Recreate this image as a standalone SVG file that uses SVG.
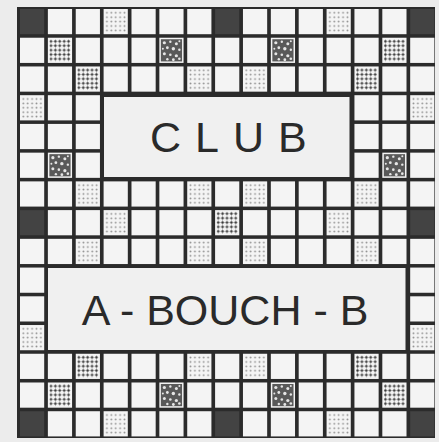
<svg xmlns="http://www.w3.org/2000/svg" xmlns:xlink="http://www.w3.org/1999/xlink" width="439" height="442" viewBox="0 0 439 442">
<style>
.lt{fill:#f4f4f4}
.tw{fill:#434343}
.box{fill:#f0f0f0}
.lbl{font-family:"Liberation Sans",Arial,sans-serif;fill:#2a2a2a;font-size:43px}
</style>
<defs>
<pattern id="dlp" width="4.4" height="4.4" x="1.1" y="1.6" patternUnits="userSpaceOnUse">
<circle cx="2.2" cy="2.2" r="0.95" fill="#8e8e8e"/>
</pattern>
<pattern id="dwp" width="4.4" height="4.4" x="0.9" y="1.4" patternUnits="userSpaceOnUse">
<path d="M0 2.2H4.4M2.2 0V4.4" stroke="#9a9a9a" stroke-width="0.6"/>
<rect x="1.2" y="1.2" width="2" height="2" fill="#333"/>
</pattern>
<g id="pl"><rect class="lt" width="24.2" height="25.2"/></g>
<g id="tw"><rect class="tw" width="24.2" height="25.2"/></g>
<g id="dl"><rect class="lt" width="24.2" height="25.2"/><rect x="1.5" y="1.5" width="21.2" height="22.2" fill="url(#dlp)"/></g>
<g id="dw"><rect class="lt" width="24.2" height="25.2"/><rect x="1.6" y="1.6" width="21" height="22" fill="url(#dwp)"/></g>
<g id="tl"><rect class="lt" width="24.2" height="25.2"/><rect x="1.5" y="1.5" width="21.2" height="22.2" fill="#595959"/>
<g fill="#e6e6e6"><circle cx="5" cy="5" r="1.6"/><circle cx="11" cy="4" r="1.2"/><circle cx="17" cy="6" r="1.5"/><circle cx="8" cy="10" r="1.4"/><circle cx="14" cy="11" r="1.7"/><circle cx="20" cy="12" r="1.2"/><circle cx="5" cy="16" r="1.5"/><circle cx="11" cy="17" r="1.3"/><circle cx="17" cy="18" r="1.6"/><circle cx="8" cy="21.5" r="1.2"/><circle cx="14" cy="22" r="1.4"/><circle cx="20" cy="21" r="1.3"/><circle cx="3.5" cy="11" r="1"/><circle cx="20" cy="3.5" r="1"/></g></g>
</defs>
<rect width="439" height="442" fill="#ececec"/>
<rect id="board" x="17" y="7" width="418" height="431" fill="#2b2b2b"/>
<g id="row0">
<use href="#tw" x="20" y="9"/><use href="#pl" x="47.87" y="9"/><use href="#pl" x="75.74" y="9"/><use href="#dl" x="103.61" y="9"/><use href="#pl" x="131.48" y="9"/><use href="#pl" x="159.35" y="9"/><use href="#pl" x="187.22" y="9"/><use href="#tw" x="215.09" y="9"/><use href="#pl" x="242.96" y="9"/><use href="#pl" x="270.83" y="9"/><use href="#pl" x="298.7" y="9"/><use href="#dl" x="326.57" y="9"/><use href="#pl" x="354.44" y="9"/><use href="#pl" x="382.31" y="9"/><use href="#tw" x="410.18" y="9"/>
</g>
<g id="row1">
<use href="#pl" x="20" y="37.73"/><use href="#dw" x="47.87" y="37.73"/><use href="#pl" x="75.74" y="37.73"/><use href="#pl" x="103.61" y="37.73"/><use href="#pl" x="131.48" y="37.73"/><use href="#tl" x="159.35" y="37.73"/><use href="#pl" x="187.22" y="37.73"/><use href="#pl" x="215.09" y="37.73"/><use href="#pl" x="242.96" y="37.73"/><use href="#tl" x="270.83" y="37.73"/><use href="#pl" x="298.7" y="37.73"/><use href="#pl" x="326.57" y="37.73"/><use href="#pl" x="354.44" y="37.73"/><use href="#dw" x="382.31" y="37.73"/><use href="#pl" x="410.18" y="37.73"/>
</g>
<g id="row2">
<use href="#pl" x="20" y="66.46"/><use href="#pl" x="47.87" y="66.46"/><use href="#dw" x="75.74" y="66.46"/><use href="#pl" x="103.61" y="66.46"/><use href="#pl" x="131.48" y="66.46"/><use href="#pl" x="159.35" y="66.46"/><use href="#dl" x="187.22" y="66.46"/><use href="#pl" x="215.09" y="66.46"/><use href="#dl" x="242.96" y="66.46"/><use href="#pl" x="270.83" y="66.46"/><use href="#pl" x="298.7" y="66.46"/><use href="#pl" x="326.57" y="66.46"/><use href="#dw" x="354.44" y="66.46"/><use href="#pl" x="382.31" y="66.46"/><use href="#pl" x="410.18" y="66.46"/>
</g>
<g id="rows3to5">
<use href="#dl" x="20" y="95.19"/><use href="#pl" x="47.87" y="95.19"/><use href="#pl" x="75.74" y="95.19"/><use href="#pl" x="354.44" y="95.19"/><use href="#pl" x="382.31" y="95.19"/><use href="#dl" x="410.18" y="95.19"/>
<use href="#pl" x="20" y="123.92"/><use href="#pl" x="47.87" y="123.92"/><use href="#pl" x="75.74" y="123.92"/><use href="#pl" x="354.44" y="123.92"/><use href="#pl" x="382.31" y="123.92"/><use href="#pl" x="410.18" y="123.92"/>
<use href="#pl" x="20" y="152.65"/><use href="#tl" x="47.87" y="152.65"/><use href="#pl" x="75.74" y="152.65"/><use href="#pl" x="354.44" y="152.65"/><use href="#tl" x="382.31" y="152.65"/><use href="#pl" x="410.18" y="152.65"/>
</g>
<g id="row6">
<use href="#pl" x="20" y="181.38"/><use href="#pl" x="47.87" y="181.38"/><use href="#dl" x="75.74" y="181.38"/><use href="#pl" x="103.61" y="181.38"/><use href="#pl" x="131.48" y="181.38"/><use href="#pl" x="159.35" y="181.38"/><use href="#dl" x="187.22" y="181.38"/><use href="#pl" x="215.09" y="181.38"/><use href="#dl" x="242.96" y="181.38"/><use href="#pl" x="270.83" y="181.38"/><use href="#pl" x="298.7" y="181.38"/><use href="#pl" x="326.57" y="181.38"/><use href="#dl" x="354.44" y="181.38"/><use href="#pl" x="382.31" y="181.38"/><use href="#pl" x="410.18" y="181.38"/>
</g>
<g id="row7">
<use href="#tw" x="20" y="210.11"/><use href="#pl" x="47.87" y="210.11"/><use href="#pl" x="75.74" y="210.11"/><use href="#dl" x="103.61" y="210.11"/><use href="#pl" x="131.48" y="210.11"/><use href="#pl" x="159.35" y="210.11"/><use href="#pl" x="187.22" y="210.11"/><use href="#dw" x="215.09" y="210.11"/><use href="#pl" x="242.96" y="210.11"/><use href="#pl" x="270.83" y="210.11"/><use href="#pl" x="298.7" y="210.11"/><use href="#dl" x="326.57" y="210.11"/><use href="#pl" x="354.44" y="210.11"/><use href="#pl" x="382.31" y="210.11"/><use href="#tw" x="410.18" y="210.11"/>
</g>
<g id="row8">
<use href="#pl" x="20" y="238.84"/><use href="#pl" x="47.87" y="238.84"/><use href="#dl" x="75.74" y="238.84"/><use href="#pl" x="103.61" y="238.84"/><use href="#pl" x="131.48" y="238.84"/><use href="#pl" x="159.35" y="238.84"/><use href="#dl" x="187.22" y="238.84"/><use href="#pl" x="215.09" y="238.84"/><use href="#dl" x="242.96" y="238.84"/><use href="#pl" x="270.83" y="238.84"/><use href="#pl" x="298.7" y="238.84"/><use href="#pl" x="326.57" y="238.84"/><use href="#dl" x="354.44" y="238.84"/><use href="#pl" x="382.31" y="238.84"/><use href="#pl" x="410.18" y="238.84"/>
</g>
<g id="rows9to11">
<use href="#pl" x="20" y="267.57"/><use href="#pl" x="410.18" y="267.57"/>
<use href="#pl" x="20" y="296.3"/><use href="#pl" x="410.18" y="296.3"/>
<use href="#dl" x="20" y="325.03"/><use href="#dl" x="410.18" y="325.03"/>
</g>
<g id="row12">
<use href="#pl" x="20" y="353.76"/><use href="#pl" x="47.87" y="353.76"/><use href="#dw" x="75.74" y="353.76"/><use href="#pl" x="103.61" y="353.76"/><use href="#pl" x="131.48" y="353.76"/><use href="#pl" x="159.35" y="353.76"/><use href="#dl" x="187.22" y="353.76"/><use href="#pl" x="215.09" y="353.76"/><use href="#dl" x="242.96" y="353.76"/><use href="#pl" x="270.83" y="353.76"/><use href="#pl" x="298.7" y="353.76"/><use href="#pl" x="326.57" y="353.76"/><use href="#dw" x="354.44" y="353.76"/><use href="#pl" x="382.31" y="353.76"/><use href="#pl" x="410.18" y="353.76"/>
</g>
<g id="row13">
<use href="#pl" x="20" y="382.49"/><use href="#dw" x="47.87" y="382.49"/><use href="#pl" x="75.74" y="382.49"/><use href="#pl" x="103.61" y="382.49"/><use href="#pl" x="131.48" y="382.49"/><use href="#tl" x="159.35" y="382.49"/><use href="#pl" x="187.22" y="382.49"/><use href="#pl" x="215.09" y="382.49"/><use href="#pl" x="242.96" y="382.49"/><use href="#tl" x="270.83" y="382.49"/><use href="#pl" x="298.7" y="382.49"/><use href="#pl" x="326.57" y="382.49"/><use href="#pl" x="354.44" y="382.49"/><use href="#dw" x="382.31" y="382.49"/><use href="#pl" x="410.18" y="382.49"/>
</g>
<g id="row14">
<use href="#tw" x="20" y="411.22"/><use href="#pl" x="47.87" y="411.22"/><use href="#pl" x="75.74" y="411.22"/><use href="#dl" x="103.61" y="411.22"/><use href="#pl" x="131.48" y="411.22"/><use href="#pl" x="159.35" y="411.22"/><use href="#pl" x="187.22" y="411.22"/><use href="#tw" x="215.09" y="411.22"/><use href="#pl" x="242.96" y="411.22"/><use href="#pl" x="270.83" y="411.22"/><use href="#pl" x="298.7" y="411.22"/><use href="#dl" x="326.57" y="411.22"/><use href="#pl" x="354.44" y="411.22"/><use href="#pl" x="382.31" y="411.22"/><use href="#tw" x="410.18" y="411.22"/>
</g>
<g id="club">
<rect class="box" x="104" y="97" width="245.5" height="80"/>
<text class="lbl" x="150" y="152" letter-spacing="14">CLUB</text>
</g>
<g id="abouchb">
<rect class="box" x="48" y="268" width="357.5" height="82"/>
<text class="lbl" x="225" y="325" text-anchor="middle">A - BOUCH - B</text>
</g>
</svg>
